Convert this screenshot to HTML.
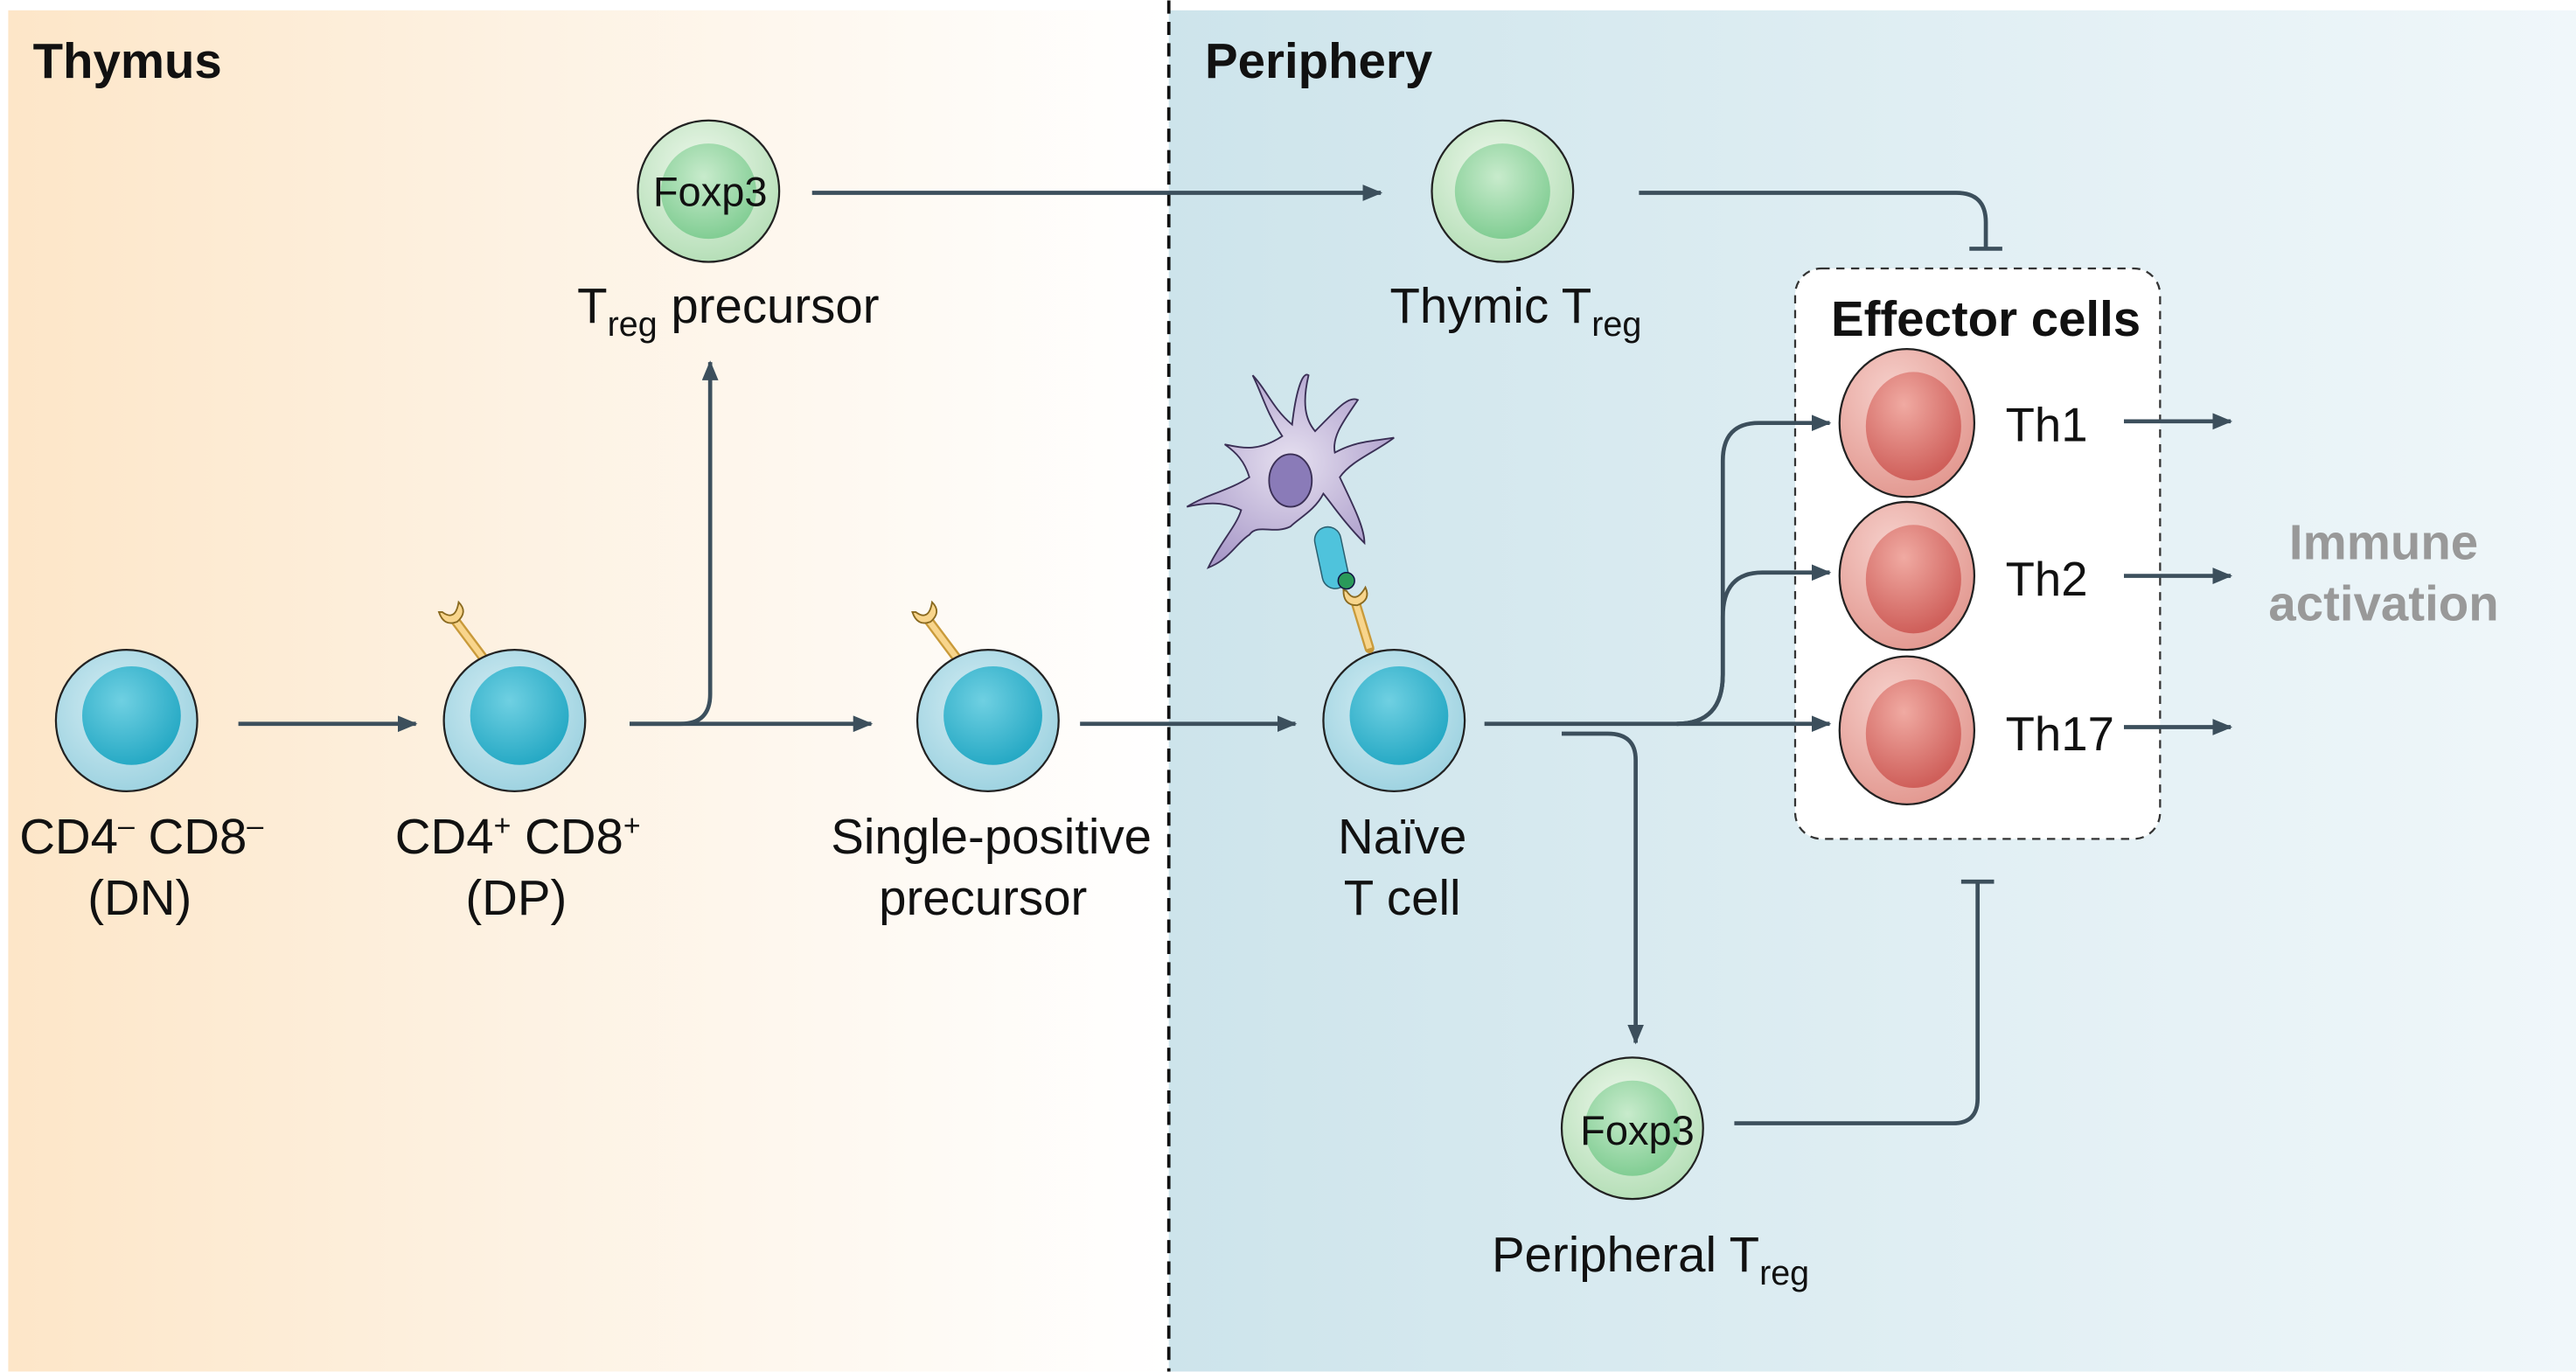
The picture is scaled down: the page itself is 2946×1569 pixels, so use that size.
<!DOCTYPE html>
<html><head><meta charset="utf-8"><style>
html,body{margin:0;padding:0;background:#fff}
svg{display:block}
text{font-family:"Liberation Sans",Arial,sans-serif;fill:#111}
</style></head><body>
<svg width="2946" height="1569" viewBox="0 0 1567 834" xmlns="http://www.w3.org/2000/svg">
<defs>
<linearGradient id="lg" x1="0" x2="1" y1="0" y2="0">
<stop offset="0" stop-color="#fde6c8"/><stop offset="0.45" stop-color="#fdf2e3"/><stop offset="1" stop-color="#ffffff"/></linearGradient>
<linearGradient id="rg" x1="0" x2="1" y1="0" y2="0">
<stop offset="0" stop-color="#cde4eb"/><stop offset="1" stop-color="#f0f7fa"/></linearGradient>
<radialGradient id="blue" cx="0.45" cy="0.4" r="0.6"><stop offset="0" stop-color="#d6eef4"/><stop offset="1" stop-color="#9fd3e1"/></radialGradient>
<radialGradient id="bluen" cx="0.4" cy="0.35" r="0.7"><stop offset="0" stop-color="#6fd0e2"/><stop offset="1" stop-color="#22a7c3"/></radialGradient>
<radialGradient id="green" cx="0.45" cy="0.35" r="0.65"><stop offset="0" stop-color="#eef8ec"/><stop offset="1" stop-color="#b6dfb8"/></radialGradient>
<radialGradient id="greenn" cx="0.45" cy="0.35" r="0.7"><stop offset="0" stop-color="#c8ebcc"/><stop offset="1" stop-color="#7ccb8f"/></radialGradient>
<radialGradient id="red" cx="0.4" cy="0.3" r="0.7"><stop offset="0" stop-color="#f6d0cb"/><stop offset="1" stop-color="#e39a92"/></radialGradient>
<radialGradient id="redn" cx="0.4" cy="0.3" r="0.7"><stop offset="0" stop-color="#f0aaa2"/><stop offset="1" stop-color="#cf5f5a"/></radialGradient>
<radialGradient id="purp" cx="0.5" cy="0.45" r="0.6"><stop offset="0" stop-color="#e6e0f0"/><stop offset="1" stop-color="#a99ac9"/></radialGradient>
<marker id="ah" markerWidth="14" markerHeight="12" refX="11" refY="5" orient="auto" markerUnits="userSpaceOnUse">
<path d="M0,0 L12,5 L0,10 Z" fill="#3c4f5c"/></marker>
<g id="bc"><circle r="43" fill="url(#blue)" stroke="#222" stroke-width="1.2"/><circle cx="3" cy="-3" r="30" fill="url(#bluen)"/></g>
<g id="gc"><circle r="43" fill="url(#green)" stroke="#222" stroke-width="1.2"/><circle cx="0" cy="0" r="29" fill="url(#greenn)"/></g>
<g id="rc"><ellipse rx="41" ry="45" fill="url(#red)" stroke="#222" stroke-width="1.2"/><ellipse cx="4" cy="2" rx="29" ry="33" fill="url(#redn)"/></g>
<g id="tcr"><path d="M-6,-2 L-24,-26" stroke="#c99a3a" stroke-width="6" stroke-linecap="round"/><path d="M-6,-2 L-24,-26" stroke="#f8d58c" stroke-width="3.5"/><path d="M-31,-30 q8,6 10,-6 q6,6 -1,12 q-8,3 -11,-6 z" fill="#f8d58c" stroke="#8a6a20" stroke-width="1"/></g>
</defs>
<rect x="0" y="0" width="1567" height="834" fill="#fff"/>
<rect x="5" y="6" width="706" height="828" fill="url(#lg)"/>
<rect x="711" y="6" width="856" height="828" fill="url(#rg)"/>
<line x1="711" y1="0" x2="711" y2="834" stroke="#111" stroke-width="2" stroke-dasharray="8,5"/>
<text x="20" y="47" font-size="30" font-weight="bold">Thymus</text>
<text x="733" y="47" font-size="30" font-weight="bold">Periphery</text>

<rect x="1092" y="163" width="222" height="347" rx="16" fill="#fff" stroke="#333" stroke-width="1.2" stroke-dasharray="5,4"/>
<text x="1208" y="204" font-size="30" font-weight="bold" text-anchor="middle">Effector cells</text>

<g stroke="#3c4f5c" stroke-width="2.5" fill="none">
<line x1="145" y1="440" x2="253" y2="440" marker-end="url(#ah)"/>
<path d="M383,440 L530,440" marker-end="url(#ah)"/>
<path d="M383,440 L414,440 Q432,440 432,422 L432,220" marker-end="url(#ah)"/>
<line x1="657" y1="440" x2="788" y2="440" marker-end="url(#ah)"/>
<line x1="494" y1="117" x2="840" y2="117" marker-end="url(#ah)"/>
<path d="M997,117 L1190,117 Q1208,117 1208,135 L1208,150"/>
<line x1="1198" y1="151" x2="1218" y2="151"/>
<path d="M903,440 L1020,440 Q1048,440 1048,410 L1048,280 Q1048,257 1070,257 L1113,257" marker-end="url(#ah)"/>
<path d="M1020,440 Q1048,440 1048,410 L1048,375 Q1048,348 1072,348 L1113,348" marker-end="url(#ah)"/>
<line x1="1020" y1="440" x2="1113" y2="440" marker-end="url(#ah)"/>
<path d="M950,446 L978,446 Q995,446 995,462 L995,634" marker-end="url(#ah)"/>
<path d="M1055,683 L1188,683 Q1203,683 1203,668 L1203,536"/>
<line x1="1193" y1="536" x2="1213" y2="536"/>
<line x1="1292" y1="256" x2="1357" y2="256" marker-end="url(#ah)"/>
<line x1="1292" y1="350" x2="1357" y2="350" marker-end="url(#ah)"/>
<line x1="1292" y1="442" x2="1357" y2="442" marker-end="url(#ah)"/>
</g>

<use href="#bc" x="77" y="438"/>
<use href="#tcr" x="300" y="402"/>
<use href="#bc" x="313" y="438"/>
<use href="#tcr" x="588" y="402"/>
<use href="#bc" x="601" y="438"/>
<use href="#bc" x="848" y="438"/>
<use href="#gc" x="431" y="116"/>
<use href="#gc" x="914" y="116"/>
<use href="#gc" x="993" y="686"/>
<use href="#rc" x="1160" y="257"/>
<use href="#rc" x="1160" y="350"/>
<use href="#rc" x="1160" y="444"/>

<g>
<path d="M780,265 C770,250 768,240 762,228 C770,236 774,248 786,258 C788,240 792,225 796,228 C792,245 794,255 800,262 C812,250 820,240 826,243 C818,255 810,265 812,275 C825,268 835,268 848,266 C836,275 822,280 815,290 C822,305 830,320 830,330 C818,318 810,306 805,300 C800,310 790,315 785,320 C775,325 765,318 760,325 C752,330 748,340 735,345 C742,330 752,320 755,310 C745,305 735,305 722,308 C735,300 748,298 760,290 C757,280 752,275 745,270 C755,272 765,275 780,265 Z" fill="url(#purp)" stroke="#3a2f55" stroke-width="1"/>
<ellipse cx="785" cy="292" rx="13" ry="16" fill="#8a7bb8" stroke="#3a2f55" stroke-width="1"/>
<rect x="802" y="320" width="16" height="38" rx="8" transform="rotate(-12 810 339)" fill="#4fc3dc" stroke="#2a5f70" stroke-width="0.8"/>
<circle cx="819" cy="353" r="5" fill="#2a9a5a" stroke="#114" stroke-width="0.8"/>
</g>
<use href="#tcr" x="838" y="398" transform="rotate(20 838 398)"/>

<g font-size="30" text-anchor="middle">
<text x="86" y="519">CD4<tspan font-size="18" dy="-11">–</tspan><tspan dy="11"> CD8</tspan><tspan font-size="18" dy="-11">–</tspan></text>
<text x="85" y="556">(DN)</text>
<text x="315" y="519">CD4<tspan font-size="18" dy="-11">+</tspan><tspan dy="11"> CD8</tspan><tspan font-size="18" dy="-11">+</tspan></text>
<text x="314" y="556">(DP)</text>
<text x="603" y="519">Single-positive</text>
<text x="598" y="556">precursor</text>
<text x="853" y="519">Naïve</text>
<text x="853" y="556">T cell</text>
<text x="443" y="196">T<tspan font-size="21" dy="8">reg</tspan><tspan dy="-8"> precursor</tspan></text>
<text x="922" y="196">Thymic T<tspan font-size="21" dy="8">reg</tspan></text>
<text x="1004" y="773">Peripheral T<tspan font-size="21" dy="8">reg</tspan></text>
</g>
<g font-size="25" text-anchor="middle">
<text x="432" y="125">Foxp3</text>
<text x="996" y="696">Foxp3</text>
</g>
<g font-size="29">
<text x="1220" y="268">Th1</text>
<text x="1220" y="362">Th2</text>
<text x="1220" y="456">Th17</text>
</g>
<g font-size="30" font-weight="bold" text-anchor="middle">
<text x="1450" y="340" style="fill:#999">Immune</text>
<text x="1450" y="377" style="fill:#999">activation</text>
</g>
</svg>
</body></html>
